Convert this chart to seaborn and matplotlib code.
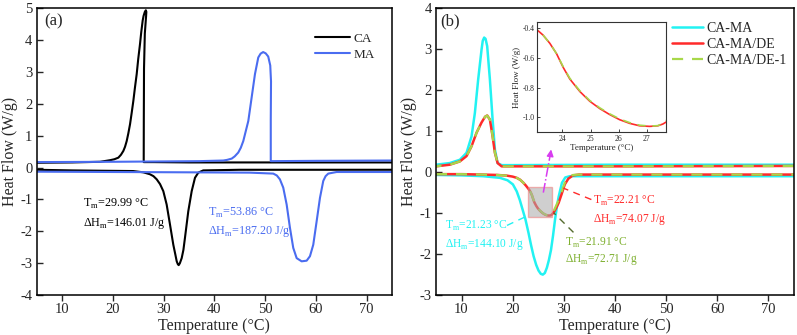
import numpy as np
import matplotlib
matplotlib.use("Agg")
import matplotlib.pyplot as plt
import matplotlib.ticker as mticker
from matplotlib.patches import Rectangle
import seaborn as sns

# ---- panel (a): pure acids -------------------------------------------------
# cooling runs (top, exothermic) are traced in time order, so T goes back a bit
ca_cool_t = [75, 60, 45, 35, 28, 26.08, 26.10, 26.14, 26.3, 26.55, 26.6, 26.5, 26.3, 26.05,
             25.88, 25.6, 25.35, 25.0, 24.70, 24.35, 24.04, 23.7, 23.39, 23.05, 22.73, 22.4,
             22.07, 21.6, 21.09, 20.3, 19.45, 17.5, 12, 5]
ca_cool_q = [0.16, 0.16, 0.16, 0.16, 0.17, 0.17, 1.5, 3.1, 4.2, 4.75, 4.88, 4.93, 4.88, 4.75,
             4.61, 4.25, 3.87, 3.4, 2.93, 2.5, 2.09, 1.7, 1.36, 1.07, 0.83, 0.65,
             0.52, 0.40, 0.31, 0.26, 0.23, 0.18, 0.16, 0.15]
ca_heat_t = [5, 12, 17.5, 24.0, 26.0, 27.3, 28.0, 28.64, 29.3, 29.94, 30.6, 31.26, 31.91,
             32.3, 32.58, 32.8, 32.97, 33.2, 33.56, 33.9, 34.2, 34.86, 35.53, 36.18, 36.83,
             37.8, 45, 60, 75]
ca_heat_q = [-0.07, -0.09, -0.10, -0.11, -0.15, -0.21, -0.27, -0.37, -0.52, -0.74, -1.16,
             -1.79, -2.42, -2.72, -2.94, -3.03, -3.06, -3.0, -2.84, -2.58, -2.21, -1.37,
             -0.74, -0.32, -0.16, -0.09, -0.07, -0.07, -0.07]

ma_cool_t = [75, 60, 51.1, 51.1, 51.15, 51.0, 50.6, 50.1, 49.6, 49.1, 48.64, 47.99, 47.34,
             46.68, 45.69, 45.2, 44.7, 44.0, 43.41, 42.5, 41.75, 37, 20, 5]
ma_cool_q = [0.22, 0.21, 0.20, 1.5, 2.7, 3.2, 3.48, 3.58, 3.62, 3.57, 3.45, 2.93, 2.2,
             1.46, 0.83, 0.62, 0.47, 0.35, 0.28, 0.24, 0.22, 0.20, 0.18, 0.17]
ma_heat_t = [5, 20, 35, 47.0, 51.6, 52.3, 52.9, 53.56, 54.23, 54.88, 55.53, 56.2, 57.18,
             58.17, 58.82, 59.47, 60.14, 60.79, 61.44, 61.9, 62.42, 64.07, 70.6, 75]
ma_heat_q = [-0.13, -0.14, -0.15, -0.16, -0.19, -0.25, -0.37, -0.63, -1.16, -1.89, -2.52,
             -2.84, -2.94, -2.92, -2.78, -2.42, -1.68, -0.95, -0.42, -0.27, -0.19, -0.14,
             -0.14, -0.14]

# ---- panel (b): eutectic and composites ------------------------------------
cama_cool_t = [75, 40, 20, 17.84, 17.06, 16.53, 16.08, 15.55, 15.02, 14.7, 14.43, 14.15,
               13.92, 13.26, 12.61, 11.96, 10.98, 9.67, 7.7, 5]
cama_cool_q = [0.18, 0.18, 0.17, 0.17, 0.22, 0.55, 1.28, 2.26, 3.07, 3.25, 3.28, 3.2,
               2.99, 2.26, 1.44, 0.87, 0.47, 0.30, 0.22, 0.18]
cama_heat_t = [5, 10, 14.25, 17.5, 19.0, 20.05, 20.8, 21.4, 22.1, 22.5, 23.1, 23.6, 24.1,
               24.6, 25.06, 25.5, 25.9, 26.3, 26.7, 27.1, 27.5, 27.9, 28.3, 28.65, 29.0,
               29.65, 30.3, 31.2, 40, 75]
cama_heat_q = [-0.07, -0.08, -0.10, -0.14, -0.20, -0.30, -0.47, -0.68, -0.98, -1.15, -1.48,
               -1.78, -2.05, -2.26, -2.40, -2.48, -2.50, -2.46, -2.33, -2.14, -1.90, -1.55,
               -1.15, -0.85, -0.60, -0.26, -0.13, -0.10, -0.10, -0.10]

de_cool_t = [75, 40, 20, 17.84, 17.06, 16.53, 16.08, 15.55, 15.02, 14.61, 13.92, 12.94,
             11.96, 10.98, 9.67, 7.7, 5]
de_cool_q = [0.15, 0.14, 0.14, 0.14, 0.22, 0.47, 0.87, 1.28, 1.38, 1.35, 1.21, 0.96,
             0.63, 0.39, 0.26, 0.18, 0.14]
de_heat_t = [5, 10, 14, 17, 18.8, 20, 20.8, 21.5, 22.1, 22.6, 23.1, 23.31, 23.55, 23.79,
             24.02, 24.26, 24.62, 24.97, 25.33, 25.68, 26.04, 26.4, 26.75, 27.11, 27.4,
             27.58, 27.7, 28.0, 28.5, 29.0, 29.6, 30.2, 30.9, 31.8, 33.0, 50, 75]
de_heat_q = [-0.05, -0.05, -0.06, -0.07, -0.085, -0.11, -0.14, -0.19, -0.26, -0.33, -0.41,
             -0.445, -0.50, -0.57, -0.66, -0.74, -0.825, -0.89, -0.94, -0.98, -1.015, -1.04,
             -1.056, -1.06, -1.056, -1.044, -1.03, -0.99, -0.88, -0.75, -0.53, -0.30, -0.16,
             -0.08, -0.06, -0.06, -0.06]
de1_heat_t = de_heat_t
de1_heat_q = [-0.05, -0.05, -0.06, -0.07, -0.085, -0.11, -0.14, -0.19, -0.26, -0.33, -0.41,
              -0.445, -0.50, -0.57, -0.655, -0.735, -0.82, -0.885, -0.935, -0.975, -1.01, -1.035,
              -1.052, -1.058, -1.055, -1.04, -1.02, -0.96, -0.82, -0.68, -0.47, -0.26, -0.13,
              -0.07, -0.06, -0.06, -0.06]

zoom_box = (23.1, 27.7, -1.1, -0.355)

sns.set_theme(style="ticks")
plt.rcParams["font.family"] = ["Liberation Serif", "DejaVu Serif"]
plt.rcParams["mathtext.fontset"] = "custom"
plt.rcParams["mathtext.rm"] = "Liberation Serif"
plt.rcParams["axes.unicode_minus"] = False
plt.rcParams["axes.linewidth"] = 1.1

c_ca, c_ma = "black", "#4a6cf0"
c_cyan, c_red, c_green = "#22f2f2", "#ff2a2a", "#a8d84a"

fig = plt.figure(figsize=(7.97, 3.35), dpi=100)
ax1 = fig.add_axes([0.046, 0.119, 0.446, 0.857])
ax2 = fig.add_axes([0.547, 0.119, 0.449, 0.857])


def trace(ax, t, q, **kw):
    sns.lineplot(x=np.array(t), y=np.array(q), sort=False, estimator=None, ax=ax, **kw)


# (a)
trace(ax1, ca_cool_t, ca_cool_q, color=c_ca, lw=1.5, label="CA")
trace(ax1, ca_heat_t, ca_heat_q, color=c_ca, lw=1.5)
trace(ax1, ma_cool_t, ma_cool_q, color=c_ma, lw=1.5, label="MA")
trace(ax1, ma_heat_t, ma_heat_q, color=c_ma, lw=1.5)

ax1.set_xlim(5, 75)
ax1.set_ylim(-4, 5)
ax1.set_yticks(range(-4, 6))
ax1.text(0.022, 0.955, "(a)", transform=ax1.transAxes, fontsize=12, va="center")
ax1.text(14.1, -1.15, r"T$_{\mathrm{m}}$=29.99 °C", fontsize=8.7, color=c_ca, va="center")
ax1.text(14.1, -1.74, r"ΔH$_{\mathrm{m}}$=146.01 J/g", fontsize=8.7, color=c_ca, va="center")
ax1.text(38.8, -1.42, r"T$_{\mathrm{m}}$=53.86 °C", fontsize=8.7, color=c_ma, va="center")
ax1.text(38.8, -2.0, r"ΔH$_{\mathrm{m}}$=187.20 J/g", fontsize=8.7, color=c_ma, va="center")
ax1.legend(loc="upper right", bbox_to_anchor=(0.985, 0.955), frameon=False, fontsize=9.5,
           handlelength=2.6, handletextpad=0.3, labelspacing=0.25)

# (b)
trace(ax2, cama_cool_t, cama_cool_q, color=c_cyan, lw=1.8, label="CA-MA")
trace(ax2, cama_heat_t, cama_heat_q, color=c_cyan, lw=1.8)
trace(ax2, de_cool_t, de_cool_q, color=c_red, lw=1.8, label="CA-MA/DE")
trace(ax2, de_heat_t, de_heat_q, color=c_red, lw=1.8)
trace(ax2, de_cool_t, de_cool_q, color=c_green, lw=1.6, linestyle=(0, (5, 4)), label="CA-MA/DE-1")
trace(ax2, de1_heat_t, de1_heat_q, color=c_green, lw=1.6, linestyle=(0, (5, 4)))

ax2.set_xlim(5, 75)
ax2.set_ylim(-3, 4)
ax2.set_yticks(range(-3, 5))
ax2.text(0.012, 0.955, "(b)", transform=ax2.transAxes, fontsize=12, va="center")

x0, x1, y0, y1 = zoom_box
ax2.add_patch(Rectangle((x0, y0), x1 - x0, y1 - y0, facecolor="#a8a8a8", alpha=0.55,
                        edgecolor="#f07878", lw=1.0, zorder=5))
ax2.plot([26.0, 27.35], [-0.5, 0.42], linestyle="-.", color="#d83cf0", lw=1.1, zorder=6)
ax2.annotate("", xy=(27.6, 0.62), xytext=(27.3, 0.35),
             arrowprops=dict(arrowstyle="-|>", color="#d83cf0", lw=1.0, mutation_scale=10),
             zorder=6)

ax2.plot([18.9, 23.0], [-1.3, -1.06], linestyle=(0, (5, 4)), color=c_cyan, lw=1.0)
ax2.text(6.7, -1.32, r"T$_{\mathrm{m}}$=21.23 °C", fontsize=8.3, color=c_cyan, va="center")
ax2.text(6.7, -1.77, r"ΔH$_{\mathrm{m}}$=144.10 J/g", fontsize=8.3, color=c_cyan, va="center")
ax2.plot([35.4, 29.9], [-0.67, -0.39], linestyle=(0, (5, 4)), color=c_red, lw=1.0)
ax2.text(35.8, -0.71, r"T$_{\mathrm{m}}$=22.21 °C", fontsize=8.3, color=c_red, va="center")
ax2.text(35.8, -1.16, r"ΔH$_{\mathrm{m}}$=74.07 J/g", fontsize=8.3, color=c_red, va="center")
ax2.plot([31.9, 28.0], [-1.47, -0.99], linestyle=(0, (5, 4)), color="#556b2f", lw=1.0)
ax2.text(30.3, -1.73, r"T$_{\mathrm{m}}$=21.91 °C", fontsize=8.3, color="#7fb030", va="center")
ax2.text(30.3, -2.13, r"ΔH$_{\mathrm{m}}$=72.71 J/g", fontsize=8.3, color="#7fb030", va="center")
ax2.legend(loc="upper right", bbox_to_anchor=(1.014, 0.995), frameon=False, fontsize=10,
           handlelength=2.2, handletextpad=0.25, labelspacing=0.22)

for ax in (ax1, ax2):
    ax.set_xticks(range(10, 80, 10))
    ax.set_xlabel("Temperature (°C)", fontsize=11.5, labelpad=1)
    ax.set_ylabel("Heat Flow (W/g)", fontsize=11.5, labelpad=2)
    ax.tick_params(axis="x", direction="out", length=4, width=1, labelsize=10.5, pad=2)
    ax.tick_params(axis="y", direction="in", length=4, width=1, labelsize=10.5, pad=3)
    for s in ax.spines.values():
        s.set_color("black")

# inset zoom of the composite melting trough
axi = fig.add_axes([0.674, 0.605, 0.162, 0.33])
trace(axi, cama_heat_t, cama_heat_q, color=c_cyan, lw=1.2)
trace(axi, de_heat_t, de_heat_q, color=c_red, lw=1.2)
trace(axi, de1_heat_t, de1_heat_q, color=c_green, lw=1.2, linestyle=(0, (5, 4)))
axi.set_xlim(x0, x1)
axi.set_ylim(y0, y1)
axi.set_xticks([24, 25, 26, 27])
axi.set_yticks([-0.4, -0.6, -0.8, -1.0])
axi.yaxis.set_major_formatter(mticker.FormatStrFormatter("%.1f"))
axi.tick_params(direction="in", length=2, width=0.6, labelsize=5.5, pad=2)
axi.set_xlabel("Temperature (°C)", fontsize=6.5, labelpad=1)
axi.set_ylabel("Heat Flow (W/g)", fontsize=6.5, labelpad=1)
for s in axi.spines.values():
    s.set_linewidth(0.8)
    s.set_color("#333333")

fig.savefig("out.png", dpi=100)
